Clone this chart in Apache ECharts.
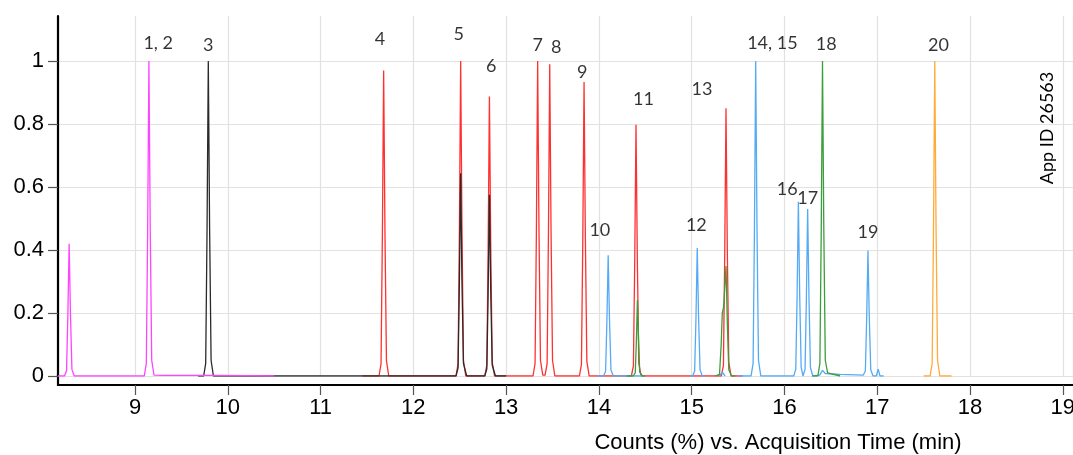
<!DOCTYPE html>
<html><head><meta charset="utf-8">
<script src="https://cdn.jsdelivr.net/npm/echarts@6/dist/echarts.min.js"></script>
<style>html,body{margin:0;padding:0;background:#fff}#c{width:1073px;height:455px}</style>
</head><body><div id="c"></div>
<script>
// ---- data (time in min, normalized counts) ----
const magentaTrace = [[8.17,0],[8.24,0],[8.262,0.017],[8.276,0.19],[8.29,0.42],[8.304,0.2],[8.32,0.021],[8.345,0],
  [9.10,0],[9.122,0.04],[9.136,0.45],[9.15,1.0],[9.164,0.47],[9.18,0.05],[9.205,0.003],[9.3,0.002],
  [9.77,0.002],[9.79,0.006],[9.81,0.002],[10.2,0.001],[10.22,0.006],[10.24,0.001],[10.5,0]];
const blackTrace = [[9.68,0],[9.74,0],[9.762,0.04],[9.776,0.45],[9.79,1.0],[9.804,0.47],[9.82,0.05],[9.845,0],
  [12.46,0],[12.482,0.026],[12.496,0.29],[12.51,0.644],[12.524,0.3],[12.54,0.04],[12.575,0],
  [12.77,0],[12.792,0.023],[12.806,0.26],[12.82,0.575],[12.834,0.27],[12.85,0.035],[12.885,0],[13.0,0]];
const redTrace = [[11.45,0],[11.63,0],[11.652,0.039],[11.666,0.44],[11.68,0.97],[11.694,0.46],[11.71,0.049],[11.735,0],
  [12.46,0],[12.482,0.04],[12.496,0.45],[12.51,1.0],[12.524,0.47],[12.54,0.05],[12.565,0],
  [12.77,0],[12.792,0.035],[12.806,0.4],[12.82,0.887],[12.834,0.42],[12.85,0.044],[12.875,0],
  [13.29,0],[13.312,0.04],[13.326,0.45],[13.34,1.0],[13.354,0.47],[13.37,0.05],[13.395,0.003],
  [13.42,0.003],[13.442,0.04],[13.456,0.445],[13.47,0.99],[13.484,0.465],[13.50,0.05],[13.525,0],
  [13.79,0],[13.812,0.037],[13.826,0.42],[13.84,0.933],[13.854,0.44],[13.87,0.047],[13.895,0],
  [14.35,0],[14.372,0.032],[14.386,0.36],[14.40,0.798],[14.414,0.375],[14.43,0.04],[14.455,0],
  [15.32,0],[15.342,0.034],[15.356,0.38],[15.37,0.85],[15.384,0.4],[15.40,0.043],[15.425,0],[15.55,0]];
const blueTrace = [[13.98,0],[14.05,0],[14.072,0.015],[14.086,0.17],[14.10,0.383],[14.114,0.18],[14.13,0.019],[14.155,0],[14.48,0],[14.49,'-'],
  [14.98,0],[15.01,0],[15.032,0.016],[15.046,0.18],[15.06,0.406],[15.074,0.19],[15.09,0.02],[15.115,0],[15.14,0],[15.2,'-'],
  [15.30,0],[15.33,0.012],[15.36,0],[15.4,'-'],
  [15.5,0],[15.64,0],[15.662,0.04],[15.676,0.45],[15.69,1.0],[15.704,0.47],[15.72,0.05],[15.745,0],
  [16.10,0],[16.122,0.022],[16.136,0.25],[16.15,0.553],[16.164,0.26],[16.18,0.028],[16.20,0],
  [16.222,0.021],[16.236,0.24],[16.25,0.53],[16.264,0.25],[16.28,0.027],[16.305,0],
  [16.38,0.003],[16.41,0.018],[16.44,0.008],[16.6,0.005],[16.85,0.003],
  [16.872,0.016],[16.886,0.18],[16.90,0.398],[16.914,0.19],[16.93,0.02],[16.955,0],
  [16.99,0],[17.01,0.022],[17.03,0],[17.07,0]];
const greenTrace = [[14.30,0],[14.37,0],[14.392,0.01],[14.404,0.11],[14.415,0.241],[14.428,0.11],[14.44,0.012],[14.47,0],[14.5,0],[14.55,'-'],
  [15.25,0],[15.30,0.005],[15.318,0.1],[15.33,0.2],[15.345,0.22],[15.37,0.349],[15.385,0.16],[15.40,0.02],[15.43,0],[15.47,0],[15.5,'-'],
  [16.30,0],[16.36,0],[16.382,0.04],[16.396,0.45],[16.41,1.0],[16.424,0.47],[16.44,0.05],[16.465,0.01],[16.6,0]];
const orangeTrace = [[17.50,0],[17.57,0],[17.592,0.04],[17.606,0.45],[17.62,1.0],[17.634,0.47],[17.65,0.05],[17.675,0],[17.8,0]];

const peakLabels = ['1, 2','3','4','5','6','7','8','9','10','11','12','13','14, 15','16','17','18','19','20'];
const labelTimes = [9.25,9.79,11.64,12.49,12.84,13.34,13.54,13.82,14.01,14.48,15.05,15.11,15.87,16.03,16.25,16.45,16.90,17.66];
const labelHeights = [1.057,1.051,1.069,1.084,0.982,1.051,1.043,0.965,0.463,0.879,0.479,0.911,1.056,0.594,0.564,1.053,0.456,1.049];

const xMin = 8.17, xMax = 19.11, yMin = 0, yMax = 1.1429;

const chart = echarts.init(document.getElementById('c'), null, {renderer:'canvas'});
function trace(data, color){
  return {type:'line', data, showSymbol:false, symbol:'none', connectNulls:false,
    lineStyle:{color, width:1.3}, itemStyle:{color}, z:2, animation:false};
}
const axisFont = {fontFamily:'Liberation Sans', fontSize:22, color:'#000'};
chart.setOption({
  backgroundColor:'#fff',
  animation:false,
  grid:{left:58, right:0, top:16, bottom:79, containLabel:false, outerBoundsMode:'none'},
  xAxis:{type:'value', min:xMin, max:xMax, offset:9, splitNumber:11,
    axisLine:{show:true, onZero:false, lineStyle:{color:'#000', width:2.2}},
    axisTick:{show:true, length:10, lineStyle:{color:'#555', width:1.2}},
    axisLabel:Object.assign({margin:12, showMinLabel:false, showMaxLabel:false}, axisFont),
    splitLine:{show:true, lineStyle:{color:'#e2e2e2', width:1.2}}},
  yAxis:{type:'value', min:yMin, max:yMax, interval:0.2,
    axisLine:{show:true, lineStyle:{color:'#000', width:2.2}},
    axisTick:{show:true, length:10, lineStyle:{color:'#555', width:1.2}},
    axisLabel:Object.assign({margin:14, showMaxLabel:false}, axisFont),
    splitLine:{show:true, showMaxLine:false, lineStyle:{color:'#e2e2e2', width:1.2}}},
  graphic:[
    {type:'line', shape:{x1:58, y1:374, x2:58, y2:386}, style:{stroke:'#000', lineWidth:2.2}},
    {type:'text', x:778, y:443, style:{text:'Counts (%) vs. Acquisition Time (min)', fontFamily:'Liberation Sans', fontSize:22, fill:'#000', textAlign:'center', textVerticalAlign:'middle'}},
    {type:'text', x:1047, y:128, rotation:Math.PI/2, style:{text:'App ID 26563', fontFamily:'Lato', fontSize:18, fill:'#000', textAlign:'center', textVerticalAlign:'middle'}}
  ],
  series:[
    trace(redTrace,'#ff3030'),
    trace(blackTrace,'#2a2a2a'),
    trace(blueTrace,'#55aaf5'),
    trace(greenTrace,'#3a9e3a'),
    trace(magentaTrace,'#ff44ff'),
    trace(orangeTrace,'#ffab3a'),
    {type:'scatter', symbolSize:0, z:5, animation:false,
      data: peakLabels.map((n,i)=>({name:n, value:[labelTimes[i], labelHeights[i]]})),
      label:{show:true, position:'inside', formatter:p=>p.name, fontFamily:'Lato', fontSize:18, color:'#000'}}
  ]
});
</script></body></html>
